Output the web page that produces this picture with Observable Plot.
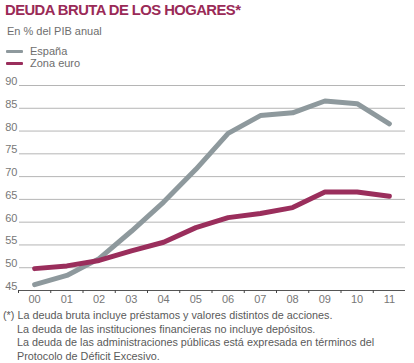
<!DOCTYPE html>
<html>
<head>
<meta charset="utf-8">
<script src="https://cdn.jsdelivr.net/npm/d3@7"></script>
<script src="https://cdn.jsdelivr.net/npm/@observablehq/plot@0.6"></script>
<style>
  html, body { margin: 0; padding: 0; background: #fff; }
  body { width: 414px; height: 363px; position: relative; overflow: hidden; font-family: "Liberation Sans", Arial, sans-serif; }
  #title { position: absolute; left: 5px; top: 2px; font-size: 14.8px; font-weight: bold; color: #9a2a57; letter-spacing: -0.55px; }
  #subtitle { position: absolute; left: 7px; top: 25px; font-size: 11px; color: #6e6e6e; }
  .leg { position: absolute; left: 6px; font-size: 11px; color: #6e6e6e; display: flex; align-items: center; }
  .leg span.sw { display: inline-block; width: 17px; height: 3px; margin-right: 7px; border-radius: 1px; }
  #chart { position: absolute; left: 0; top: 70px; }
  #foot { position: absolute; left: 3px; top: 309px; font-size: 10.8px; color: #5a5a5a; line-height: 13.5px; }
  #foot div.ind { padding-left: 14px; }
</style>
</head>
<body>
<div id="title">DEUDA BRUTA DE LOS HOGARES*</div>
<div id="subtitle">En % del PIB anual</div>
<div class="leg" style="top:45px"><span class="sw" style="background:#8e999d"></span>España</div>
<div class="leg" style="top:57px"><span class="sw" style="background:#9a2e5c"></span>Zona euro</div>
<div id="chart"></div>
<div id="foot">
  <div>(*) La deuda bruta incluye préstamos y valores distintos de acciones.</div>
  <div class="ind">La deuda de las instituciones financieras no incluye depósitos.</div>
  <div class="ind">La deuda de las administraciones públicas está expresada en términos del</div>
  <div class="ind">Protocolo de Déficit Excesivo.</div>
</div>
<script>
const years = ["00","01","02","03","04","05","06","07","08","09","10","11"];
const espana = [46.3, 48.3, 52.0, 58.0, 64.4, 71.6, 79.5, 83.4, 84.0, 86.6, 86.0, 81.6];
const zonaEuro = [49.8, 50.4, 51.6, 53.7, 55.6, 58.8, 61.0, 61.9, 63.2, 66.6, 66.6, 65.7];
const yTicks = [45, 50, 55, 60, 65, 70, 75, 80, 85, 90];
const seriesNames = ["España", "Zona euro"];
const seriesColors = ["#8e999d", "#9a2e5c"];

const data = [];
years.forEach((y, i) => {
  data.push({i, year: y, serie: seriesNames[0], value: espana[i]});
  data.push({i, year: y, serie: seriesNames[1], value: zonaEuro[i]});
});
const bandEdges = years.map((_, i) => i - 0.5);
const gridTicks = yTicks.slice(1);

const chart = Plot.plot({
  width: 414,
  height: 240,
  marginLeft: 18,
  marginRight: 9,
  marginTop: 15,
  marginBottom: 20,
  style: {fontFamily: "Liberation Sans, Arial, sans-serif", fontSize: "11px", color: "#777", background: "transparent"},
  x: {domain: [-0.5, years.length - 0.5]},
  y: {domain: [45, 90]},
  color: {domain: seriesNames, range: seriesColors},
  marks: [
    Plot.ruleY(gridTicks, {stroke: "#b5b5b5", strokeWidth: 1, insetLeft: 1}),
    Plot.axisY(yTicks, {tickSize: 0, tickPadding: 1, dy: -4, fill: "#777", label: null}),
    Plot.ruleY([45], {stroke: "#555", strokeWidth: 1}),
    Plot.axisX(bandEdges, {tickSize: 3, stroke: "#444", tickFormat: () => "", label: null}),
    Plot.axisX(years.map((_, i) => i), {tickSize: 0, tickPadding: 5, tickFormat: i => years[i], fill: "#777", label: null}),
    Plot.line(data, {x: "i", y: "value", z: "serie", stroke: "serie", strokeWidth: 5, strokeLinejoin: "round", strokeLinecap: "round"})
  ]
});
document.getElementById("chart").appendChild(chart);
</script>
</body>
</html>
